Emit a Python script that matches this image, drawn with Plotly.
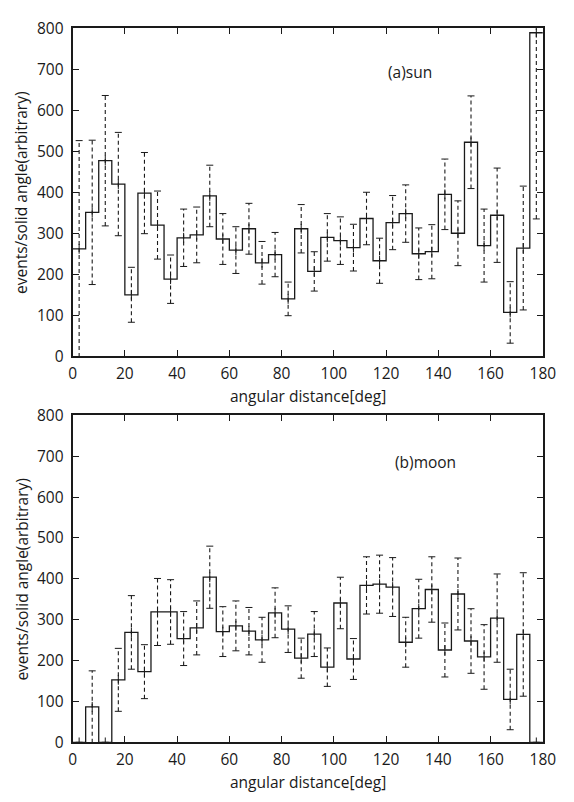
import plotly.graph_objects as go

bin_width = 5
bin_centers = [2.5 + 5 * i for i in range(36)]

sun_values = [262, 351, 477, 420, 150, 398, 320, 188, 289, 296, 391, 286,
              259, 311, 228, 248, 140, 311, 207, 290, 282, 265, 336, 233,
              326, 348, 250, 255, 395, 300, 522, 270, 344, 107, 264, 789]
sun_errors = [264, 176, 159, 126, 67, 99, 83, 59, 70, 68, 75, 62,
              57, 62, 52, 54, 41, 59, 48, 58, 58, 57, 64, 55,
              66, 70, 63, 66, 86, 79, 113, 89, 115, 75, 151, 454]

moon_values = [0, 87, 0, 153, 269, 173, 319, 319, 254, 280, 404, 271,
               285, 272, 251, 317, 277, 206, 265, 184, 341, 204, 384, 387,
               380, 245, 327, 374, 226, 363, 248, 209, 304, 105, 264, 0]
moon_errors = [0, 88, 0, 77, 90, 66, 82, 79, 66, 66, 76, 61,
               61, 58, 55, 61, 57, 49, 55, 47, 63, 50, 70, 71,
               72, 61, 72, 80, 66, 88, 79, 79, 108, 74, 151, 0]

x_ticks = [0, 20, 40, 60, 80, 100, 120, 140, 160, 180]
y_ticks = [0, 100, 200, 300, 400, 500, 600, 700, 800]

FONT = "Open Sans"
FS = 15.5
INK = "#1a1a1a"
W, H = 574, 802

fig = go.Figure()

# (x-axis, y-axis, values, errors, label, label x, label y, frame top px, frame bottom px)
panels = [
    ("x", "y", sun_values, sun_errors, "(a)sun", 129, 693, 16.7, 354.0),
    ("x2", "y2", moon_values, moon_errors, "(b)moon", 135, 686, 414.7, 751.0),
]

for xa, ya, vals, errs, label, lx, ly, ptop, pbot in panels:
    edges = [c - bin_width / 2 for c in bin_centers] + [bin_centers[-1] + bin_width / 2]
    steps = list(vals) + [vals[-1]]
    fig.add_trace(go.Scatter(x=edges, y=steps, mode="lines", line_shape="hv",
                             line=dict(color=INK, width=1.3),
                             xaxis=xa, yaxis=ya, showlegend=False, hoverinfo="skip"))
    ex, ey = [], []
    for c, v, e in zip(bin_centers, vals, errs):
        ex += [c, c, None]
        ey += [v - e, v + e, None]
    fig.add_trace(go.Scatter(x=ex, y=ey, mode="lines",
                             line=dict(color=INK, width=1.1, dash="4px,3px"),
                             xaxis=xa, yaxis=ya, showlegend=False, hoverinfo="skip"))
    cx = bin_centers + bin_centers
    cy = [v - e for v, e in zip(vals, errs)] + [v + e for v, e in zip(vals, errs)]
    fig.add_trace(go.Scatter(x=cx, y=cy, mode="markers",
                             marker=dict(symbol="line-ew", size=5,
                                         line=dict(color=INK, width=1)),
                             xaxis=xa, yaxis=ya, showlegend=False, hoverinfo="skip",
                             cliponaxis=True))
    fig.add_trace(go.Scatter(x=bin_centers, y=vals, mode="markers",
                             marker=dict(symbol="line-ns", size=7,
                                         line=dict(color=INK, width=1)),
                             xaxis=xa, yaxis=ya, showlegend=False, hoverinfo="skip",
                             cliponaxis=True))
    fig.add_annotation(x=lx, y=ly, xref=xa, yref=ya, text=label, showarrow=False,
                       xanchor="center", yanchor="middle",
                       font=dict(family=FONT, size=FS, color=INK))
    fig.add_annotation(x=313 / W, y=1 - (pbot + 41) / H, xref="paper", yref="paper",
                       text="angular distance[deg]", showarrow=False,
                       xanchor="center", yanchor="middle",
                       font=dict(family=FONT, size=FS, color=INK))
    fig.add_annotation(x=18.3 / W, y=1 - (ptop + pbot) / 2 / H, xref="paper", yref="paper",
                       text="events/solid angle(arbitrary)", showarrow=False,
                       xanchor="center", yanchor="middle", textangle=-90,
                       font=dict(family=FONT, size=FS, color=INK))

axis_common = dict(showgrid=False, zeroline=False, showline=True, linecolor=INK,
                   linewidth=1.8, mirror="ticks", ticks="inside", ticklen=6,
                   tickwidth=1, tickcolor=INK,
                   tickfont=dict(family=FONT, size=FS, color=INK))

x_dom = [70.7 / W, 555.3 / W]
fig.update_layout(
    width=W, height=H,
    margin=dict(l=0, r=0, t=0, b=0),
    paper_bgcolor="white", plot_bgcolor="white",
    xaxis=dict(domain=x_dom, range=[0, 180], tickvals=x_ticks,
               anchor="y", ticklabelstandoff=2, **axis_common),
    yaxis=dict(domain=[1 - 354.0 / H, 1 - 16.7 / H], range=[0, 800], tickvals=y_ticks,
               anchor="x", ticklabelstandoff=4, **axis_common),
    xaxis2=dict(domain=x_dom, range=[0, 180], tickvals=x_ticks,
                anchor="y2", ticklabelstandoff=2, **axis_common),
    yaxis2=dict(domain=[1 - 751.0 / H, 1 - 414.7 / H], range=[0, 800], tickvals=y_ticks,
                anchor="x2", ticklabelstandoff=4, **axis_common),
)

fig.write_html("out.html", config={"displayModeBar": False},
               post_script="document.body.style.margin='0';document.body.style.overflow='hidden';")
